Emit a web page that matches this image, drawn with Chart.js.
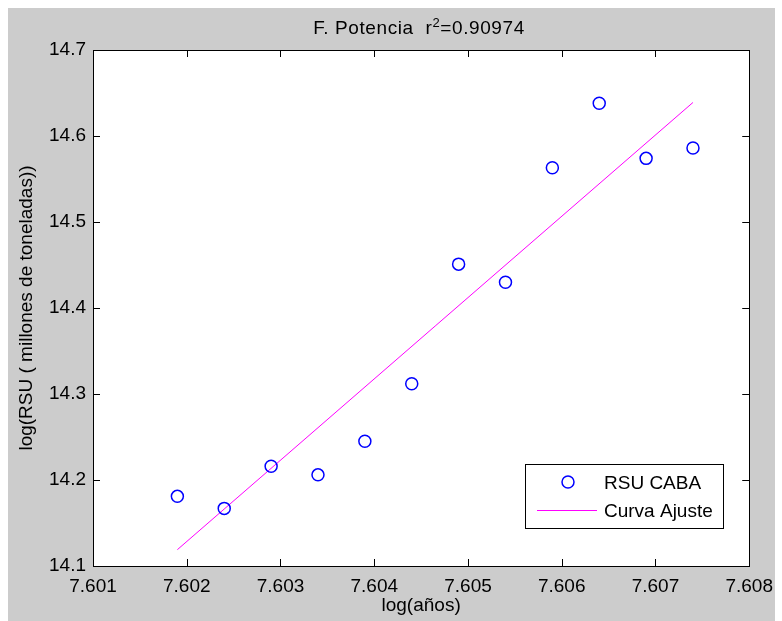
<!DOCTYPE html>
<html>
<head>
<meta charset="utf-8">
<script src="https://cdn.jsdelivr.net/npm/chart.js@4"></script>
<style>
  html, body { margin: 0; padding: 0; background: #ffffff; }
  #wrap { position: relative; width: 782px; height: 621px; }
</style>
</head>
<body>
<div id="wrap"><canvas id="c" width="782" height="621"></canvas></div>
<script>
// log(años) vs log(RSU) — measured points and power-law fit
const logYears = [7.6019, 7.6024, 7.6029, 7.6034, 7.6039, 7.6044, 7.6049, 7.6054, 7.6059, 7.6064, 7.6069, 7.6074];
const logRsu = [14.181, 14.167, 14.216, 14.206, 14.245, 14.312, 14.451, 14.430, 14.563, 14.638, 14.574, 14.586];
const fitX = [7.6019, 7.6074];
const fitY = [14.119, 14.639];
const xTicks = [7.601, 7.602, 7.603, 7.604, 7.605, 7.606, 7.607, 7.608];
const yTicks = [14.1, 14.2, 14.3, 14.4, 14.5, 14.6, 14.7];
const TITLE = 'F. Potencia  r';
const TITLE_SUP = '2';
const TITLE_END = '=0.90974';

const FONT = '"Liberation Sans", Arial, sans-serif';
const FS = 19;

const frame = {
  id: 'frame',
  beforeDraw(chart) {
    const { ctx, width, height, chartArea: a } = chart;
    ctx.save();
    ctx.fillStyle = '#ffffff';
    ctx.fillRect(0, 0, width, height);
    ctx.fillStyle = '#cccccc';
    ctx.fillRect(8, 8, width - 15, height - 8);
    ctx.fillStyle = '#ffffff';
    ctx.fillRect(a.left, a.top, a.right - a.left, a.bottom - a.top);
    ctx.restore();
  },
  afterDatasetsDraw(chart) {
    const { ctx, chartArea: a, scales } = chart;
    const len = 7;
    ctx.save();
    ctx.strokeStyle = '#000000';
    ctx.lineWidth = 1;
    ctx.beginPath();
    xTicks.forEach((v) => {
      const px = Math.round(scales.x.getPixelForValue(v)) + 0.5;
      ctx.moveTo(px, a.bottom); ctx.lineTo(px, a.bottom - len);
      ctx.moveTo(px, a.top); ctx.lineTo(px, a.top + len);
    });
    yTicks.forEach((v) => {
      const py = Math.round(scales.y.getPixelForValue(v)) + 0.5;
      ctx.moveTo(a.left, py); ctx.lineTo(a.left + len, py);
      ctx.moveTo(a.right, py); ctx.lineTo(a.right - len, py);
    });
    ctx.stroke();
    ctx.strokeRect(Math.round(a.left) + 0.5, Math.round(a.top) + 0.5,
      Math.round(a.right - a.left), Math.round(a.bottom - a.top));

    // title with superscript
    ctx.fillStyle = '#000000';
    ctx.textBaseline = 'alphabetic';
    ctx.letterSpacing = '0.6px';
    ctx.font = FS + 'px ' + FONT;
    const w1 = ctx.measureText(TITLE).width;
    const w3 = ctx.measureText(TITLE_END).width;
    ctx.font = '13px ' + FONT;
    const w2 = ctx.measureText(TITLE_SUP).width;
    let x = 419 - (w1 + w2 + w3) / 2;
    ctx.font = FS + 'px ' + FONT;
    ctx.fillText(TITLE, x, 34);
    x += w1;
    ctx.font = '13px ' + FONT;
    ctx.fillText(TITLE_SUP, x, 27);
    x += w2;
    ctx.font = FS + 'px ' + FONT;
    ctx.fillText(TITLE_END, x, 34);
    ctx.letterSpacing = '0px';

    // legend box inside the axes
    const lx = 525, ly = 464, lw = 198, lh = 64;
    ctx.fillStyle = '#ffffff';
    ctx.fillRect(lx, ly, lw, lh);
    ctx.strokeRect(lx + 0.5, ly + 0.5, lw, lh);
    const ds = chart.data.datasets;
    ctx.strokeStyle = ds[0].borderColor;
    ctx.lineWidth = 1.5;
    ctx.beginPath();
    ctx.arc(568, 482, 6, 0, Math.PI * 2);
    ctx.stroke();
    ctx.strokeStyle = ds[1].borderColor;
    ctx.lineWidth = 1;
    ctx.beginPath();
    ctx.moveTo(537, 510.5); ctx.lineTo(597, 510.5);
    ctx.stroke();
    ctx.fillStyle = '#000000';
    ctx.font = FS + 'px ' + FONT;
    ctx.fillText(ds[0].label, 604, 489);
    ctx.fillText(ds[1].label, 604, 517);
    ctx.restore();
  },
};

new Chart(document.getElementById('c'), {
  type: 'scatter',
  data: {
    datasets: [
      {
        label: 'RSU CABA',
        data: logYears.map((x, i) => ({ x, y: logRsu[i] })),
        borderColor: '#0000ff',
        backgroundColor: 'rgba(0,0,0,0)',
        borderWidth: 1.5,
        pointRadius: 6,
        pointStyle: 'circle',
      },
      {
        type: 'line',
        label: 'Curva Ajuste',
        data: fitX.map((x, i) => ({ x, y: fitY[i] })),
        borderColor: '#ff00ff',
        borderWidth: 1,
        pointRadius: 0,
        fill: false,
      },
    ],
  },
  options: {
    responsive: false,
    animation: false,
    layout: { padding: { left: 0, top: 50, right: 31, bottom: 0 } },
    plugins: { legend: { display: false }, tooltip: { enabled: false } },
    scales: {
      x: {
        type: 'linear',
        min: 7.601,
        max: 7.608,
        afterBuildTicks: (s) => { s.ticks = xTicks.map((v) => ({ value: v })); },
        afterFit: (s) => { s.height = 55; },
        grid: { display: false, drawTicks: false },
        border: { display: false },
        ticks: {
          color: '#000000',
          font: { family: FONT, size: FS },
          padding: 9,
          maxRotation: 0,
          autoSkip: false,
          callback: (v) => v.toFixed(3),
        },
        title: {
          display: true,
          text: 'log(años)',
          color: '#000000',
          font: { family: FONT, size: FS },
          padding: { top: 0, bottom: 4 },
        },
      },
      y: {
        min: 14.1,
        max: 14.7,
        afterBuildTicks: (s) => { s.ticks = yTicks.map((v) => ({ value: v })); },
        afterFit: (s) => { s.width = 93; },
        grid: { display: false, drawTicks: false },
        border: { display: false },
        ticks: {
          color: '#000000',
          font: { family: FONT, size: FS },
          padding: 7,
          autoSkip: false,
          callback: (v) => v.toFixed(1),
        },
        title: {
          display: true,
          text: 'log(RSU ( millones de toneladas))',
          color: '#000000',
          font: { family: FONT, size: FS },
          padding: { top: 15, bottom: 0 },
        },
      },
    },
  },
  plugins: [frame],
});
</script>
</body>
</html>
